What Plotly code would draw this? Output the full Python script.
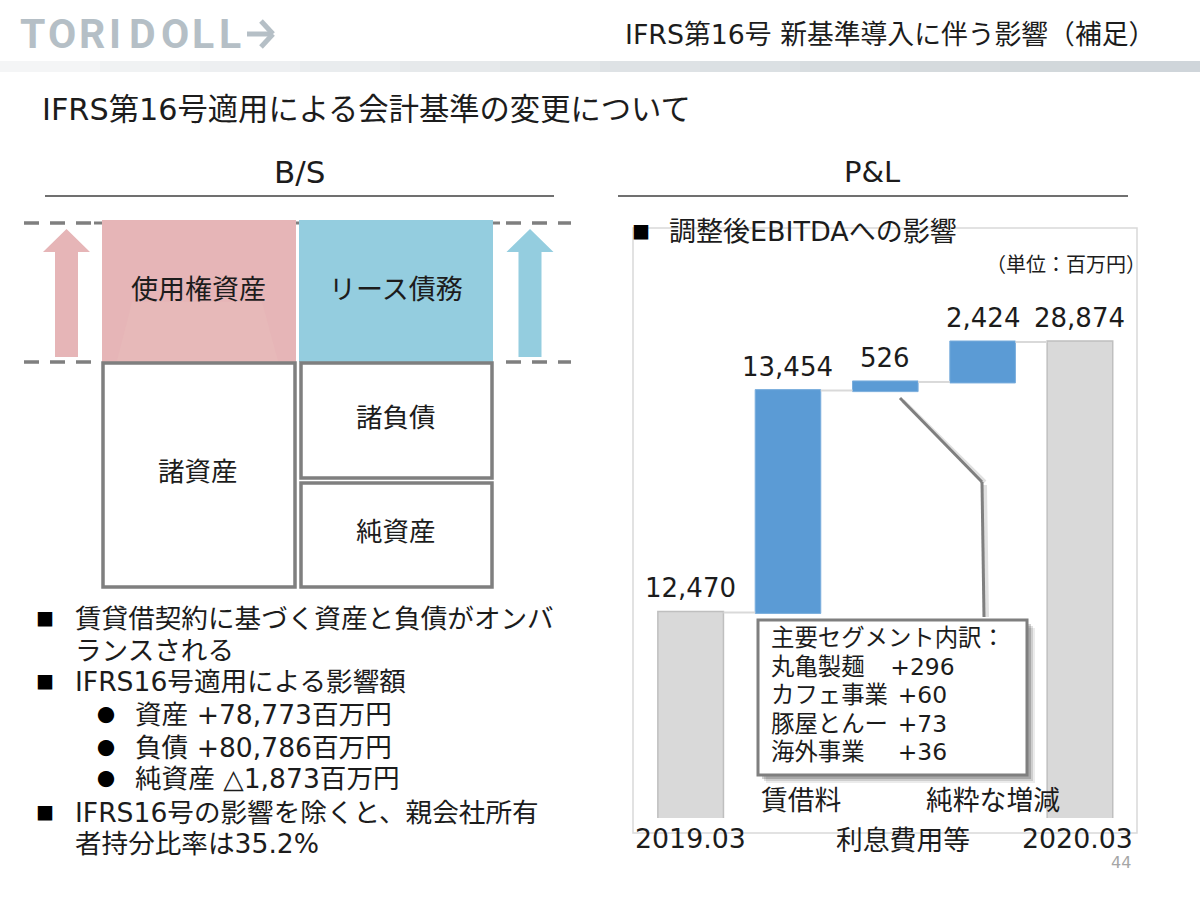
import plotly.graph_objects as go

W = 1200
H = 897
FONT = "DejaVu Sans, Noto Sans CJK JP"
INK = "#1c1c1c"
GRAY = "#7f7f7f"

# waterfall data (百万円)
categories = ["2019.03", "賃借料", "利息費用等", "純粋な増減", "2020.03"]
values = [12470, 13454, 526, 2424, 28874]
measures = ["absolute", "relative", "relative", "relative", "total"]
value_labels = ["12,470", "13,454", "526", "2,424", "28,874"]

# callout text
segment_title = "主要セグメント内訳："
segment_lines = ["丸亀製麺　\u200a+296", "カフェ事業\u00a0\u200a+60", "豚屋とんー\u00a0\u200a+73", "海外事業　\u00a0\u200a+36"]

# left column bullets
bullets = [
    "賃貸借契約に基づく資産と負債がオンバ",
    "ランスされる",
    "IFRS16号適用による影響額",
    "資産 +78,773百万円",
    "負債 +80,786百万円",
    "純資産 △1,873百万円",
    "IFRS16号の影響を除くと、親会社所有",
    "者持分比率は35.2%",
]
bullet_marks = ["■", "", "■", "●", "●", "●", "■", ""]
logo_letters = list("TORIDOLL")


def px(x):
    return x / W


def py(y):
    return 1 - y / H


shapes = []
annotations = []


def rect(x0, y0, x1, y1, fill=None, line=None, width=0, layer="below"):
    shapes.append(dict(type="rect", xref="paper", yref="paper", x0=px(x0), x1=px(x1), y0=py(y0), y1=py(y1),
                       fillcolor=fill, line=dict(color=line, width=width), layer=layer))


def seg(x0, y0, x1, y1, color, width, dash="solid"):
    shapes.append(dict(type="line", xref="paper", yref="paper", x0=px(x0), x1=px(x1), y0=py(y0), y1=py(y1),
                       line=dict(color=color, width=width, dash=dash), layer="below"))


def label(x, y, text, size, anchor="center", color=INK, family=FONT):
    annotations.append(dict(xref="paper", yref="paper", x=px(x), y=py(y), text=text, showarrow=False,
                            xanchor=anchor, yanchor="middle", borderpad=0,
                            font=dict(size=size, color=color, family=family)))


def up_arrow(cx, color):
    pts = [(cx - 11.5, 357), (cx - 11.5, 252), (cx - 23.5, 252), (cx, 229), (cx + 23.5, 252), (cx + 11.5, 252), (cx + 11.5, 357)]
    path = "M " + " L ".join(f"{px(a):.5f},{py(b):.5f}" for a, b in pts) + " Z"
    shapes.append(dict(type="path", xref="paper", yref="paper", path=path, fillcolor=color, line=dict(width=0), layer="below"))


# header
logo_x = [32, 62, 92, 115, 142, 175, 203, 230]
for ch, x in zip(logo_letters, logo_x):
    label(x, 34, f"<b>{ch}</b>", 41, color="#b5bfc6", family="Roboto")
seg(247, 34, 273, 34, "#b5bfc6", 5)
seg(261, 21, 273, 34, "#b5bfc6", 5)
seg(261, 47, 273, 34, "#b5bfc6", 5)
label(1156, 34, "IFRS第16号 新基準導入に伴う影響（補足）", 26.8, anchor="right")

# header band fades in from the left
band = ["#f4f5f6", "#f0f2f3", "#edeff1", "#e9ecee", "#e6e9eb", "#e2e6e8", "#dee2e5", "#dbe0e3", "#d8dde0", "#d5dadd", "#d2d8db", "#cfd5da"]
for i, col in enumerate(band):
    rect(i * 100, 61, (i + 1) * 100, 72, fill=col)

label(41, 110, "IFRS第16号適用による会計基準の変更について", 30.3, anchor="left")

# section heads
label(299, 172, "B/S", 31)
label(872, 172, "P&amp;L", 29)
seg(45, 196, 554, 196, "#404040", 1.5)
seg(618, 196, 1128, 196, "#404040", 1.5)

# B/S diagram
for y in (223, 362):
    seg(24, y, 94, y, GRAY, 3.5, dash="15px,11px")
    seg(506, y, 571, y, GRAY, 3.5, dash="15px,11px")
seg(94, 223, 500, 223, GRAY, 3)
up_arrow(66.5, "#e6b5b7")
up_arrow(530, "#94cddf")
rect(102, 220, 296, 362, fill="#e6b5b7")
rect(299, 220, 493, 362, fill="#94cddf")
trap = [(117, 361), (132, 302), (262, 302), (278, 361)]
shapes.append(dict(type="path", xref="paper", yref="paper", layer="below", fillcolor="#e7b9b9", line=dict(width=0),
                   path="M " + " L ".join(f"{px(a):.5f},{py(b):.5f}" for a, b in trap) + " Z"))
rect(103, 363, 295, 587, fill="white", line=GRAY, width=3.5)
rect(301, 363, 492, 478, fill="white", line=GRAY, width=3.5)
rect(301, 483, 492, 587, fill="white", line=GRAY, width=3.5)
label(198, 290, "使用権資産", 27)
label(396, 290, "リース債務", 27)
label(198, 471, "諸資産", 26.5)
label(396, 417, "諸負債", 26.5)
label(396, 531, "純資産", 26.5)

# bullets
line_y = [618, 650, 681, 714, 747, 778, 812, 843]
for text, mark, y in zip(bullets, bullet_marks, line_y):
    sub = mark == "●"
    label(134 if sub else 74, y, text, 26.6, anchor="left")
    if mark:
        label(106 if sub else 45, y, mark, 18, color="black", family="Noto Sans CJK JP")

# P&L frame and heading
rect(633, 228, 1137, 833, fill="white", line="#d9d9d9", width=1.5)
label(641, 231, "■", 18, color="black", family="Noto Sans CJK JP")
label(668, 231, "調整後EBITDAへの影響", 27, anchor="left")
label(1147, 265, "（単位：百万円）", 20, anchor="right")
label(1121, 862, "44", 16, color="#a6a6a6")

# leader line, soft shadow first
leader = [(900, 398), (982, 482), (984, 617)]
for off, col, wid in [(3, "rgba(0,0,0,0.12)", 4), (0, GRAY, 3)]:
    for (a, b), (c, d) in zip(leader, leader[1:]):
        seg(a + off, b + off, c + off, d, col, wid)

# callout box with shadow
for off, alpha in [(8, 0.08), (6, 0.12), (4, 0.18)]:
    rect(758 + off, 620 + off, 1027 + off, 775 + off, fill=f"rgba(0,0,0,{alpha})")
rect(758, 620, 1027, 775, fill="white", line=GRAY, width=3)
label(770, 638, segment_title, 23.4, anchor="left")
for text, y in zip(segment_lines, [667, 695, 724, 752]):
    label(770, y, text, 23.4, anchor="left")

fig = go.Figure(go.Waterfall(
    x=categories,
    y=values,
    measure=measures,
    increasing=dict(marker=dict(color="#5b9bd5", line=dict(color="#7aaedd", width=1))),
    totals=dict(marker=dict(color="#d9d9d9", line=dict(color="#bfbfbf", width=1.5))),
    connector=dict(line=dict(color="#d9d9d9", width=2)),
))

# value labels float a bit higher than textposition="outside" would put them
total = 0
for i, (val, text) in enumerate(zip(values, value_labels)):
    total = val if measures[i] != "relative" else total + val
    annotations.append(dict(xref="x", yref="y", x=i, y=total, yshift=24, text=text, showarrow=False,
                            xanchor="center", yanchor="middle", font=dict(size=26, color=INK, family=FONT)))

# axis labels are staggered and sit off-centre like the text boxes in the slide
label_rows = [838, 800, 840, 800, 838]
label_shift = [0, 13, 18, 10, -2]
for i, (cat, y, shift) in enumerate(zip(categories, label_rows, label_shift)):
    annotations.append(dict(xref="x", yref="paper", x=i, y=py(y), xshift=shift, text=cat, showarrow=False,
                            xanchor="center", yanchor="middle", font=dict(size=26.8, color=INK, family=FONT)))

fig.update_layout(
    width=W,
    height=H,
    margin=dict(l=0, r=0, t=0, b=0),
    paper_bgcolor="white",
    plot_bgcolor="rgba(0,0,0,0)",
    showlegend=False,
    waterfallgap=0.326,
    shapes=shapes,
    annotations=annotations,
    xaxis=dict(domain=[px(642), px(1128.6)], range=[-0.5, 4.5], visible=False, type="category"),
    yaxis=dict(domain=[py(818), py(241)], range=[0, 35000], visible=False),
)

# page has a default body margin that would push everything by 8px
fig.write_html("out.html", post_script="document.body.style.margin='0';", config={"displayModeBar": False})
